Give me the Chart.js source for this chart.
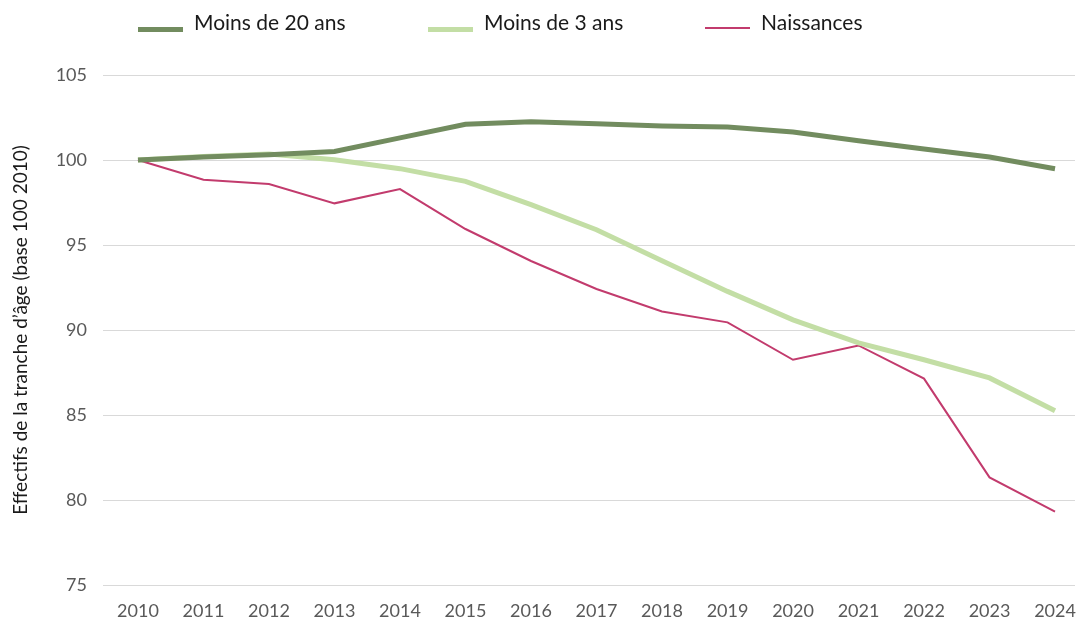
<!DOCTYPE html>
<html>
<head>
<meta charset="utf-8">
<script src="https://cdn.jsdelivr.net/npm/chart.js@4/dist/chart.umd.min.js"></script>
<style>
  html, body { margin: 0; padding: 0; background: #fff; }
  #wrap { position: relative; width: 1077px; height: 622px; }
  #legend { position: absolute; top: 9px; left: 0; height: 30px; font-family: 'Lato', sans-serif; font-size: 21px; color: #1a1a1a; }
  .item { position: absolute; top: 0; white-space: nowrap; }
  .item span.sw { position: absolute; top: 18px; width: 45px; }
  .item span.lb { position: absolute; left: 56px; top: 0; }
</style>
</head>
<body>
<div id="wrap">
  <div id="legend"></div>
  <canvas id="myChart" width="1077" height="622"></canvas>
</div>
<script>
// data
const years = [2010, 2011, 2012, 2013, 2014, 2015, 2016, 2017, 2018, 2019, 2020, 2021, 2022, 2023, 2024];
const moins20 = [100, 100.18, 100.31, 100.5, 101.3, 102.1, 102.25, 102.13, 102.0, 101.94, 101.65, 101.13, 100.65, 100.18, 99.49];
const moins3 = [100, 100.21, 100.35, 100.02, 99.49, 98.74, 97.37, 95.9, 94.08, 92.27, 90.6, 89.24, 88.25, 87.18, 85.25];
const naissances = [100, 98.84, 98.59, 97.45, 98.29, 95.94, 94.06, 92.41, 91.09, 90.45, 88.25, 89.09, 87.14, 81.33, 79.31];
const yTicks = [75, 80, 85, 90, 95, 100, 105];

const series = [
  { label: 'Moins de 20 ans', values: moins20, color: '#728c5f', width: 5, legendX: 138 },
  { label: 'Moins de 3 ans', values: moins3, color: '#c3dea5', width: 5, legendX: 428 },
  { label: 'Naissances', values: naissances, color: '#c23b6d', width: 2, legendX: 705 }
];

// html legend
const legend = document.getElementById('legend');
series.forEach(s => {
  const d = document.createElement('div');
  d.className = 'item';
  d.style.left = s.legendX + 'px';
  d.innerHTML = '<span class="sw" style="background:' + s.color + ';height:' + (s.width === 2 ? 2 : 5) + 'px"></span><span class="lb">' + s.label + '</span>';
  legend.appendChild(d);
});

const ctx = document.getElementById('myChart');
new Chart(ctx, {
  type: 'line',
  data: {
    datasets: series.map(s => ({
      label: s.label,
      data: years.map((yr, i) => ({ x: yr, y: s.values[i] })),
      borderColor: s.color,
      borderWidth: s.width,
      pointRadius: 0,
      fill: false,
      tension: 0
    }))
  },
  options: {
    responsive: false,
    animation: false,
    layout: { padding: { top: 75, right: 2, left: 0, bottom: 0 } },
    plugins: { legend: { display: false }, tooltip: { enabled: false } },
    scales: {
      x: {
        type: 'linear',
        min: 2009.466,
        max: 2024.305,
        afterBuildTicks: scale => { scale.ticks = years.map(v => ({ value: v })); },
        afterFit: scale => { scale.height = 37; scale.paddingLeft = 0; scale.paddingRight = 0; },
        grid: { display: false, drawTicks: false },
        border: { display: false },
        ticks: {
          padding: 15,
          color: '#595959',
          font: { family: 'Lato', size: 18 },
          callback: v => String(v),
          maxRotation: 0
        }
      },
      y: {
        min: 75,
        max: 105,
        afterBuildTicks: scale => { scale.ticks = yTicks.map(v => ({ value: v })); },
        afterFit: scale => { scale.width = 103; },
        grid: { color: '#d9d9d9', drawTicks: false, lineWidth: 1 },
        border: { display: false },
        ticks: {
          padding: 16,
          color: '#595959',
          font: { family: 'Lato', size: 18 }
        },
        title: {
          display: true,
          text: 'Effectifs de la tranche d\u2019âge (base 100 2010)',
          color: '#1a1a1a',
          font: { family: 'Lato', size: 19 },
          padding: { top: 9, bottom: 0 }
        }
      }
    }
  }
});
</script>
</body>
</html>
